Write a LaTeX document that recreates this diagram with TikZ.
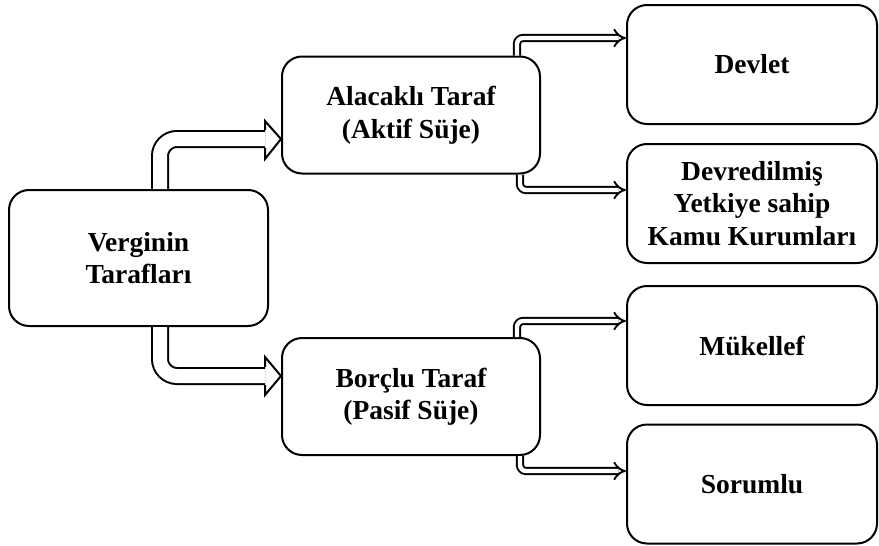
\documentclass[tikz,border=0pt]{standalone}
\usepackage{fontspec}
\setmainfont{Liberation Serif}
\usetikzlibrary{arrows.meta}
\begin{document}
\begin{tikzpicture}[x=1pt,y=-1pt,
  box/.style={draw, line width=2pt, rounded corners=20pt, align=center,
    font=\bfseries\fontsize{27.5}{32.5}\selectfont, inner sep=0pt},
  mainbox/.style={box, minimum width=258pt, minimum height=117pt},
  rbox/.style={box, minimum width=250pt, minimum height=119pt},
  thin/.style={line width=1.9pt, double=white, double distance=4.4pt, rounded corners=6pt, -{Implies}},
  thick/.style={line width=2pt, double=white, double distance=14pt, rounded corners=17pt},
  headline/.style={line width=2pt, line join=miter}]
\useasboundingbox (0,0) rectangle (879,546);

\node[box, minimum width=259pt, minimum height=136pt] (v) at (138.5,258) {Verginin\\Tarafları};
\node[mainbox] (a) at (411,115) {Alacaklı Taraf\\(Aktif Süje)};
\node[mainbox] (b) at (411,396.5) {Borçlu Taraf\\(Pasif Süje)};
\node[rbox] (d1) at (752,64.5) {Devlet};
\node[rbox] (d2) at (752,203.5) {Devredilmiş\\Yetkiye sahip\\Kamu Kurumları};
\node[rbox] (d3) at (752,345.5) {Mükellef};
\node[rbox] (d4) at (752,484) {Sorumlu};

% big arrows
\coordinate (h1) at (265,139);
\coordinate (h2) at (265,376);
\draw[thick] (v.north -| 160,0) |- (h1);
\draw[headline] ([yshift=-9pt]h1) -- ([yshift=-20pt]h1) -- (a.west |- h1) -- ([yshift=18pt]h1) -- ([yshift=9pt]h1);
\draw[thick] (v.south -| 160,0) |- (h2);
\draw[headline] ([yshift=-9pt]h2) -- ([yshift=-19pt]h2) -- (b.west |- h2) -- ([yshift=19pt]h2) -- ([yshift=9pt]h2);

% small arrows
\draw[thin] (a.north -| 517,0) |- (d1.west |- 0,38);
\draw[thin] (a.south -| 520,0) |- (d2.west |- 0,190);
\draw[thin] (b.north -| 517,0) |- (d3.west |- 0,321);
\draw[thin] (b.south -| 520,0) |- (d4.west |- 0,471);
\end{tikzpicture}
\end{document}
